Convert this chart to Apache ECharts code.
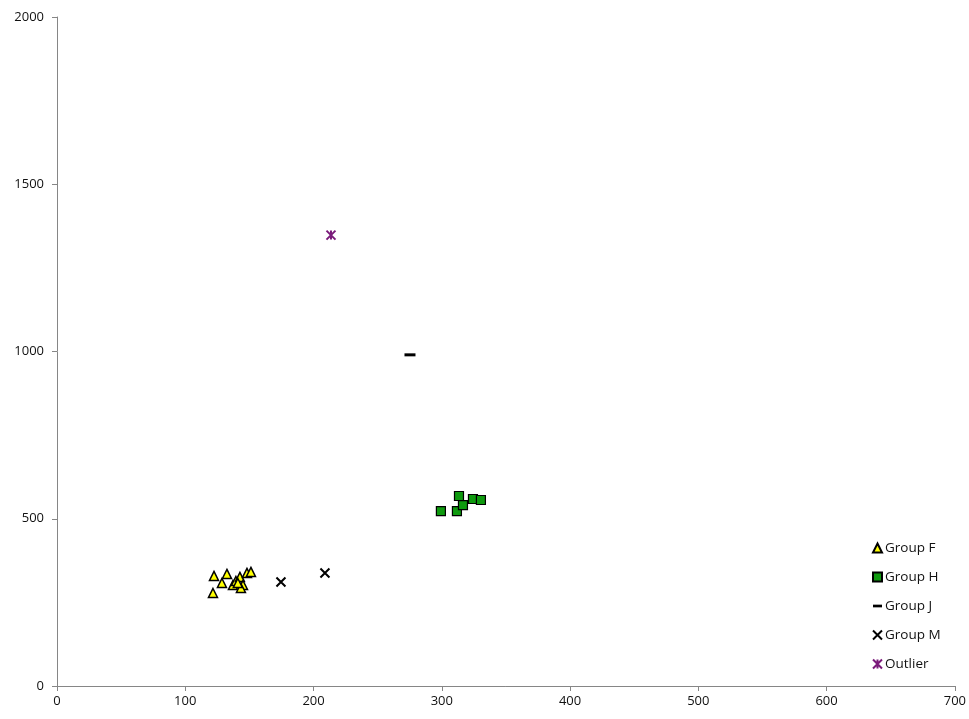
<!DOCTYPE html>
<html><head><meta charset="utf-8">
<script src="https://cdn.jsdelivr.net/npm/echarts@6/dist/echarts.min.js"></script>
<style>html,body{margin:0;padding:0;background:#fff}#c{width:969px;height:719px}</style>
</head><body><div id="c"></div>
<script>
const groupF = [[122.4,329],[121.6,278],[132.5,335],[128.6,308],[137.2,302],[139.5,314],[142.6,326],[145,302],[143.4,293],[148.1,338],[151.2,341],[141,308]];
const groupH = [[299.3,523],[311.8,523],[313.4,568],[316.5,541],[324.3,559],[330.5,556]];
const groupJ = [[275.2,990]];
const groupM = [[174.6,311],[208.9,338]];
const outlier = [[213.6,1348]];
const xTicks = [0,100,200,300,400,500,600,700];
const yTicks = [0,500,1000,1500,2000];

const font = '"Open Sans", "Noto Sans", sans-serif';
const crossPath = 'path://M0,0L10,10M10,0L0,10';
const starPath = 'path://M0,0L10,10M10,0L0,10M5,0L5,10';
const chart = echarts.init(document.getElementById('c'));
chart.setOption({
  animation:false,
  backgroundColor:'#fff',
  textStyle:{fontFamily:font},
  grid:{left:57,right:14,top:17,bottom:33,containLabel:false},
  xAxis:{type:'value',min:xTicks[0],max:xTicks[xTicks.length-1],interval:100,
    axisLine:{show:true,lineStyle:{color:'#868686',width:1}},
    axisTick:{show:true,length:5,lineStyle:{color:'#868686'}},
    axisLabel:{color:'#111',fontSize:13,fontFamily:font,margin:9,formatter:v=>String(v)},
    splitLine:{show:false}},
  yAxis:{type:'value',min:yTicks[0],max:yTicks[yTicks.length-1],interval:500,
    axisLine:{show:true,lineStyle:{color:'#868686',width:1}},
    axisTick:{show:true,length:5,lineStyle:{color:'#868686'}},
    axisLabel:{color:'#111',fontSize:13,fontFamily:font,margin:13,formatter:v=>String(v)},
    splitLine:{show:false}},
  legend:{orient:'vertical',left:872,top:541,padding:0,itemGap:15,itemWidth:9,itemHeight:9,
    textStyle:{color:'#111',fontSize:13.5,fontFamily:font,padding:[0,0,0,-2]},
    data:[
      {name:'Group F',icon:'triangle'},
      {name:'Group H',icon:'rect'},
      {name:'Group J',icon:'path://M0,0L10,0L10,3L0,3Z'},
      {name:'Group M',icon:crossPath},
      {name:'Outlier',icon:starPath}
    ]},
  series:[
    {name:'Group F',type:'scatter',data:groupF,symbol:'triangle',symbolSize:9,
      itemStyle:{color:'#ffff00',borderColor:'#000',borderWidth:1.5,opacity:1}},
    {name:'Group H',type:'scatter',data:groupH,symbol:'rect',symbolSize:9,
      itemStyle:{color:'#0f9a0f',borderColor:'#000',borderWidth:1.2,opacity:1}},
    {name:'Group J',type:'scatter',data:groupJ,symbol:'rect',symbolSize:[11,3],
      itemStyle:{color:'#000',opacity:1}},
    {name:'Group M',type:'scatter',data:groupM,symbol:crossPath,symbolSize:9,
      itemStyle:{color:'#000',borderColor:'#000',borderWidth:2,opacity:1}},
    {name:'Outlier',type:'scatter',data:outlier,symbol:starPath,symbolSize:9,
      itemStyle:{color:'#7a1a7a',borderColor:'#7a1a7a',borderWidth:2,opacity:1}}
  ]
});
</script></body></html>
